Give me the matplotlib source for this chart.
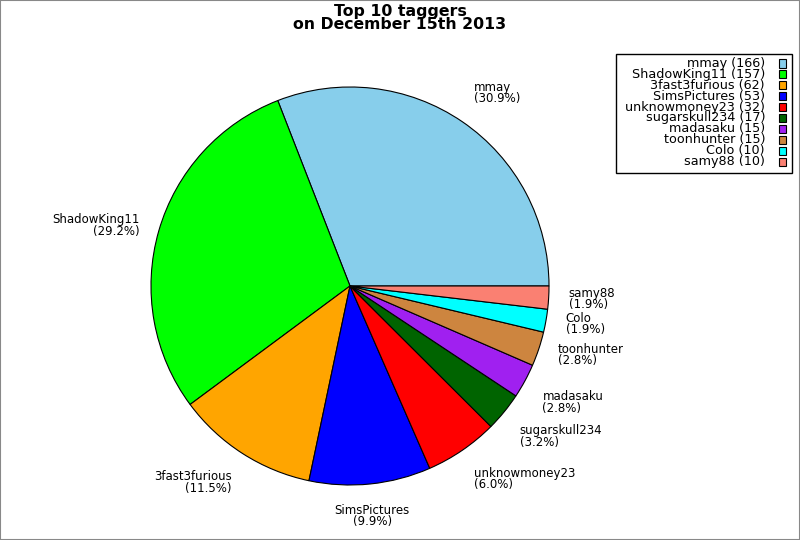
import numpy as np
import matplotlib
matplotlib.use("Agg")
import matplotlib.pyplot as plt
from matplotlib.patches import Rectangle

# top 10 taggers
names = ["mmay", "ShadowKing11", "3fast3furious", "SimsPictures", "unknowmoney23",
         "sugarskull234", "madasaku", "toonhunter", "Colo", "samy88"]
counts = [166, 157, 62, 53, 32, 17, 15, 15, 10, 10]
colors = ["#87ceeb", "#00ff00", "#ffa500", "#0000ff", "#ff0000",
          "#006400", "#a020f0", "#cd853f", "#00ffff", "#fa8072"]

plt.rcParams["font.family"] = "DejaVu Sans"

W, H = 800, 540
fig = plt.figure(figsize=(8, 5.4), dpi=100)
ax = fig.add_axes([0, 0, 1, 1])

cx, cy, r = 350, H - 286, 199
wedges, _ = ax.pie(counts, colors=colors, startangle=0, counterclock=True,
                   center=(cx, cy), radius=r,
                   wedgeprops=dict(edgecolor="black", linewidth=0.8))
ax.set_xlim(0, W)
ax.set_ylim(0, H)
ax.set_aspect("auto")
ax.axis("off")

# slice labels
total = sum(counts)
for w, name, c in zip(wedges, names, counts):
    ang = np.deg2rad((w.theta1 + w.theta2) / 2)
    x = cx + 1.1 * r * np.cos(ang)
    y = cy + 1.1 * r * np.sin(ang)
    co, si = np.cos(ang), np.sin(ang)
    ha = "center" if abs(co) < 0.2 else ("left" if co > 0 else "right")
    va = "center" if abs(si) < 0.35 else ("bottom" if si > 0 else "top")
    ax.text(x, y, f"{name}\n({100 * c / total:.1f}%)", ha=ha, va=va,
            fontsize=8.5, linespacing=0.85)

# title
fig.text(0.5, 1 - 4 / H, "Top 10 taggers\non December 15th 2013", ha="center",
         va="top", fontsize=11.3, fontweight="bold", linespacing=0.85)

# legend, drawn by hand (text right aligned, box on the right)
lx0, ly0, lx1, ly1 = 616, 54, 792, 173
fig.add_artist(Rectangle((lx0 / W, 1 - ly1 / H), (lx1 - lx0) / W, (ly1 - ly0) / H,
                         transform=fig.transFigure, facecolor="white",
                         edgecolor="black", linewidth=1))
row = 10.9
for i, (name, c, col) in enumerate(zip(names, counts, colors)):
    yy = 63.5 + i * row
    fig.text(765 / W, 1 - yy / H, f"{name} ({c})", ha="right", va="center",
             fontsize=9.2)
    fig.add_artist(Rectangle((779 / W, 1 - (yy + 4) / H), 7 / W, 8 / H,
                             transform=fig.transFigure, facecolor=col,
                             edgecolor="black", linewidth=0.8))

# outer frame
fig.add_artist(Rectangle((0, 0), 1, 1, transform=fig.transFigure, fill=False,
                         edgecolor="#888888", linewidth=1.5))

fig.savefig("out.png", dpi=100)
